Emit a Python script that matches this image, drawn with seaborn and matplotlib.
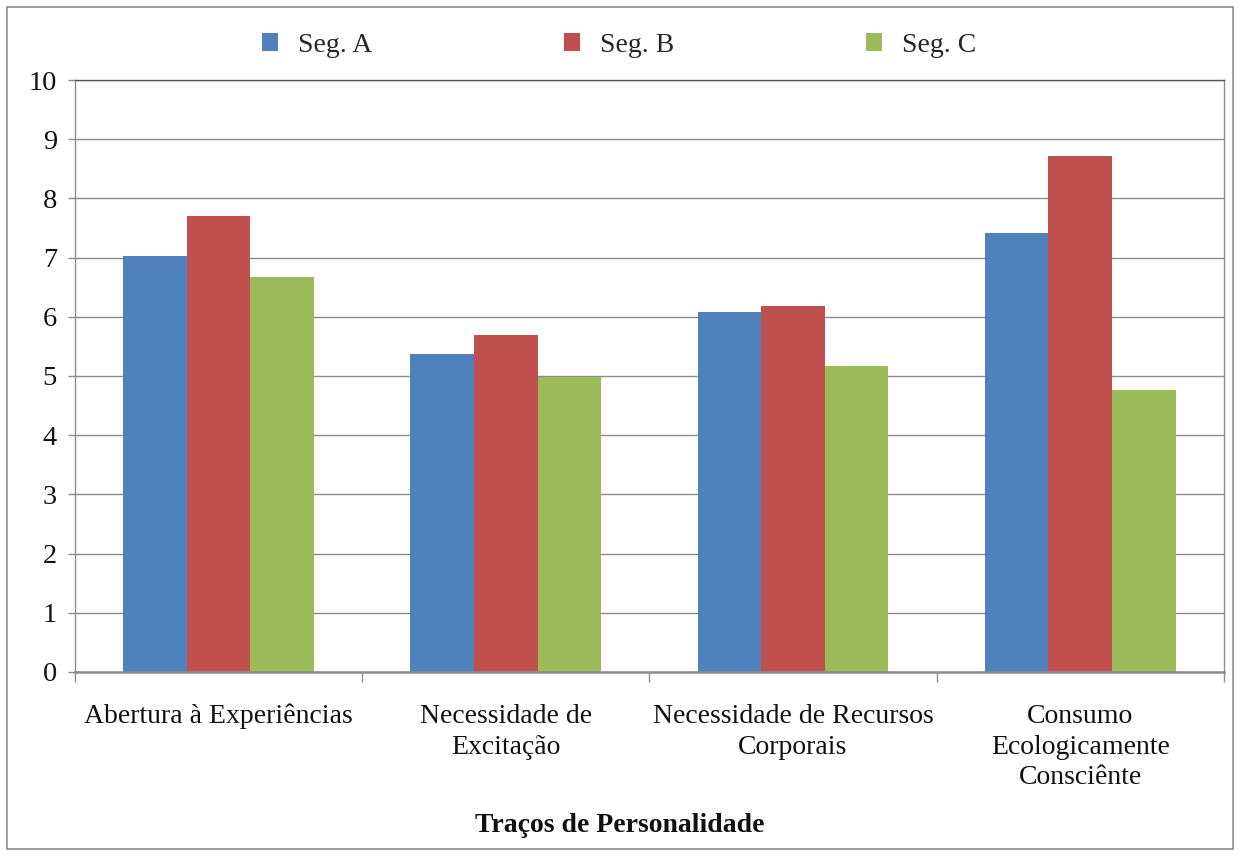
import matplotlib
matplotlib.use("Agg")
import matplotlib.pyplot as plt
from matplotlib.patches import Rectangle
import seaborn as sns
import pandas as pd

# Personality-trait means per segment
traits = ["Abertura à Experiências",
          "Necessidade de\nExcitação",
          "Necessidade de Recursos\nCorporais",
          "Consumo\nEcologicamente\nConsciênte"]
segments = ["Seg. A", "Seg. B", "Seg. C"]
seg_a = [7.03, 5.38, 6.08, 7.41]
seg_b = [7.70, 5.70, 6.19, 8.72]
seg_c = [6.68, 4.98, 5.17, 4.77]
colors = ["#4F81BD", "#C0504D", "#9BBB59"]
y_ticks = list(range(0, 11))

rows = []
for seg, vals in zip(segments, [seg_a, seg_b, seg_c]):
    for t, v in zip(traits, vals):
        rows.append({"trait": t, "seg": seg, "value": v})
df = pd.DataFrame(rows)

sns.set_theme(style="white")
plt.rcParams["font.family"] = ["Liberation Serif", "DejaVu Serif"]
plt.rcParams["font.size"] = 20

fig = plt.figure(figsize=(12.4, 8.56), dpi=100)
ax = fig.add_axes([0.0605, 0.215, 0.9265, 0.6915])

sns.barplot(data=df, x="trait", y="value", hue="seg", palette=colors,
            width=0.664, saturation=1, gap=0, linewidth=0, ax=ax)

grid_c = "#8C8C8C"
ax.set_ylim(0, 10)
ax.set_xlim(-0.5, len(traits) - 0.5)
ax.set_yticks(y_ticks)
ax.yaxis.grid(True, color=grid_c, linewidth=1.0)
ax.set_axisbelow(True)
for side in ["left", "right", "top", "bottom"]:
    ax.spines[side].set_color(grid_c)
    ax.spines[side].set_linewidth(1.0)
ax.spines["bottom"].set_linewidth(1.8)
ax.spines["top"].set_color("#555555")

ax.tick_params(axis="y", length=5, width=1, color=grid_c, pad=8,
               labelsize=20.5, labelcolor="#111111", left=True)
ax.set_xticks(range(len(traits)))
ax.set_xticklabels(traits, linespacing=1.3)
ax.tick_params(axis="x", which="major", length=0, pad=23,
               labelsize=20, labelcolor="#111111")
ax.set_xticks([i - 0.5 for i in range(len(traits) + 1)], minor=True)
ax.tick_params(axis="x", which="minor", length=7, width=1, color=grid_c,
               bottom=True)
ax.set_xlabel("")
ax.set_ylabel("")

fig.text(0.5, 1 - 826 / 856, "Traços de Personalidade", ha="center",
         va="center", fontsize=20, fontweight="bold", color="#111111")

sns.move_legend(ax, "center", bbox_to_anchor=(0.499, 1 - 45 / 856),
                bbox_transform=fig.transFigure, ncol=3, frameon=False,
                title=None, fontsize=20, handlelength=0.6, handleheight=0.6,
                handletextpad=0.7, columnspacing=6.9)

fig.add_artist(Rectangle((7 / 1240, 7 / 856), 1226 / 1240, 842 / 856,
                         transform=fig.transFigure, fill=False,
                         edgecolor="#8C8C8C", linewidth=1.2))

fig.savefig("out.png", dpi=100, facecolor="white")
